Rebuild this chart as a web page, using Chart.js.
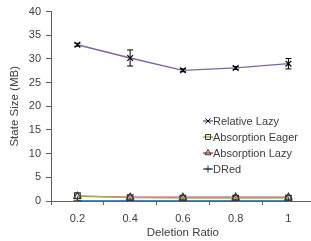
<!DOCTYPE html>
<html>
<head>
<meta charset="utf-8">
<script src="https://cdn.jsdelivr.net/npm/chart.js@4"></script>
<style>
  body { margin: 0; background: #fff; overflow: hidden; }
  #wrap { position: absolute; left: 0; top: 0; width: 320px; height: 241px; }
</style>
</head>
<body>
<div id="wrap"><canvas id="grafico" width="320" height="241"></canvas></div>
<script>
// dados
const ratios = ['0.2', '0.4', '0.6', '0.8', '1'];
const relativeLazy = [33.0, 30.2, 27.6, 28.1, 29.0];
const relativeLazyErr = [0.3, 1.7, 0.3, 0.3, 1.1];
const absorptionEager = [1.1, 0.7, 0.6, 0.6, 0.6];
const absorptionLazy = [1.0, 0.8, 0.8, 0.8, 0.8];
const dred = [0.05, 0.05, 0.05, 0.05, 0.05];
const yTicks = [0, 5, 10, 15, 20, 25, 30, 35, 40];

const fonte = "'Liberation Sans', Arial, sans-serif";
const corTexto = '#404040';
const corEixo = '#606060';

// barras de erro da série Relative Lazy
const errorBars = {
  id: 'errorBars',
  afterDatasetsDraw(chart) {
    const ctx = chart.ctx;
    const x = chart.scales.x, y = chart.scales.y;
    ctx.save();
    ctx.strokeStyle = '#000';
    ctx.lineWidth = 1;
    relativeLazy.forEach((v, i) => {
      const px = x.getPixelForValue(i);
      const top = y.getPixelForValue(v + relativeLazyErr[i]);
      const bot = y.getPixelForValue(v - relativeLazyErr[i]);
      ctx.beginPath();
      ctx.moveTo(px, top); ctx.lineTo(px, bot);
      ctx.moveTo(px - 3, top); ctx.lineTo(px + 3, top);
      ctx.moveTo(px - 3, bot); ctx.lineTo(px + 3, bot);
      ctx.stroke();
    });
    ctx.restore();
  }
};

// legenda dentro da área do gráfico
const legendaInterna = {
  id: 'legendaInterna',
  afterDraw(chart) {
    const ctx = chart.ctx;
    const x0 = 205, y0 = 121, passo = 16;
    ctx.save();
    ctx.font = '11px ' + fonte;
    ctx.textBaseline = 'middle';
    chart.data.datasets.forEach((ds, i) => {
      const y = y0 + i * passo;
      ctx.strokeStyle = ds.borderColor;
      ctx.lineWidth = 1.5;
      ctx.beginPath();
      ctx.moveTo(x0 - 2, y); ctx.lineTo(x0 + 8, y);
      ctx.stroke();
      ctx.strokeStyle = ds.pointBorderColor;
      ctx.fillStyle = 'rgba(0,0,0,0)';
      ctx.lineWidth = 1;
      Chart.helpers.drawPoint(ctx, {
        pointStyle: ds.pointStyle, radius: 3.5, rotation: 0, borderWidth: 1
      }, x0 + 3, y);
      ctx.fillStyle = corTexto;
      ctx.fillText(ds.label, x0 + 8, y + 0.5);
    });
    ctx.restore();
  }
};

function serie(label, dados, cor, estilo, marcador) {
  return {
    label: label,
    data: dados,
    borderColor: cor,
    borderWidth: 1.3,
    pointStyle: estilo,
    pointRadius: 4,
    pointBorderColor: marcador,
    pointBackgroundColor: 'rgba(0,0,0,0)',
    pointBorderWidth: 1.2,
    tension: 0,
    fill: false
  };
}

const ctx = document.getElementById('grafico').getContext('2d');
const myChart = new Chart(ctx, {
  type: 'line',
  data: {
    labels: ratios,
    datasets: [
      serie('Relative Lazy', relativeLazy, '#8064A2', 'crossRot', '#000'),
      serie('Absorption Eager', absorptionEager, '#9BBB59', 'rect', '#333'),
      serie('Absorption Lazy', absorptionLazy, '#C0504D', 'triangle', '#333'),
      serie('DRed', dred, '#4F81BD', 'cross', '#333')
    ]
  },
  options: {
    responsive: false,
    animation: false,
    layout: { padding: { top: 10, left: 0, right: 4, bottom: 0 } },
    plugins: {
      legend: { display: false },
      tooltip: { enabled: false }
    },
    scales: {
      x: {
        offset: true,
        grid: {
          offset: true, drawOnChartArea: false, drawTicks: true,
          tickLength: 4, color: corEixo
        },
        border: { display: true, color: corEixo, width: 1 },
        ticks: { color: corTexto, font: { family: fonte, size: 11 }, padding: 7 },
        title: {
          display: true, text: 'Deletion Ratio', color: corTexto,
          font: { family: fonte, size: 11.5 }, padding: { top: 0, bottom: 1 }
        },
        afterFit(scale) { scale.height = 40; }
      },
      y: {
        min: 0, max: 40,
        afterBuildTicks(scale) { scale.ticks = yTicks.map(v => ({ value: v })); },
        grid: {
          drawOnChartArea: false, drawTicks: true, tickLength: 5, color: corEixo
        },
        border: { display: true, color: corEixo, width: 1 },
        ticks: { color: corTexto, font: { family: fonte, size: 11 }, padding: 5 },
        title: {
          display: true, text: 'State Size (MB)', color: corTexto,
          font: { family: fonte, size: 11.5 }, padding: { top: 8, bottom: 0 }
        },
        afterFit(scale) { scale.width = 51; }
      }
    }
  },
  plugins: [errorBars, legendaInterna]
});
</script>
</body>
</html>
